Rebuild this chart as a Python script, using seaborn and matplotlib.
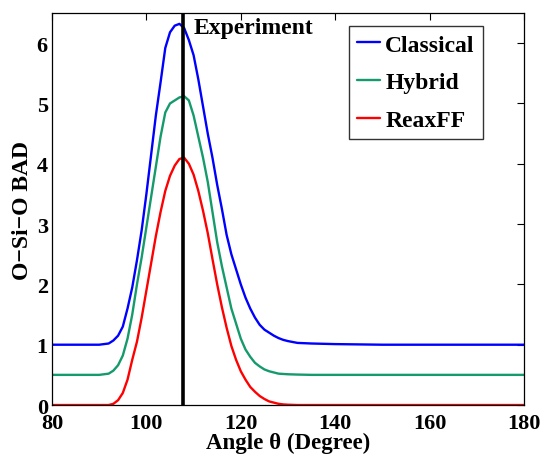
import matplotlib
matplotlib.use("Agg")
import matplotlib.pyplot as plt
import seaborn as sns
import pandas as pd

angle = [80, 85, 90, 91] + list(range(92, 131)) + [132, 135, 140, 150, 160, 170, 180]

classical = [1.0, 1.0, 1.0, 1.01,
             1.02, 1.07, 1.15, 1.3, 1.6, 1.95, 2.4, 2.9, 3.5, 4.15, 4.8, 5.35, 5.92,
             6.18, 6.29, 6.32, 6.25, 6.05, 5.8, 5.4, 4.95, 4.5, 4.1, 3.65, 3.25, 2.82,
             2.5, 2.25, 2.0, 1.78, 1.6, 1.45, 1.33, 1.25, 1.2, 1.15, 1.11, 1.08, 1.06,
             1.03, 1.02, 1.01, 1.0, 1.0, 1.0, 1.0]

hybrid = [0.5, 0.5, 0.5, 0.51,
          0.52, 0.57, 0.66, 0.82, 1.1, 1.5, 2.0, 2.45, 2.95, 3.45, 3.95, 4.45, 4.85,
          5.0, 5.05, 5.1, 5.12, 5.05, 4.8, 4.45, 4.1, 3.7, 3.2, 2.7, 2.3, 1.95,
          1.6, 1.35, 1.1, 0.92, 0.8, 0.7, 0.64, 0.59, 0.56, 0.54, 0.52, 0.515, 0.51,
          0.505, 0.5, 0.5, 0.5, 0.5, 0.5, 0.5]

reaxff = [0.0, 0.0, 0.0, 0.0,
          0.0, 0.02, 0.08, 0.2, 0.42, 0.75, 1.05, 1.45, 1.9, 2.35, 2.8, 3.2, 3.55,
          3.8, 3.97, 4.08, 4.1, 4.0, 3.82, 3.55, 3.22, 2.85, 2.42, 2.0, 1.62, 1.28,
          0.98, 0.75, 0.56, 0.42, 0.3, 0.22, 0.15, 0.1, 0.06, 0.04, 0.02, 0.01, 0.005,
          0.0, 0.0, 0.0, 0.0, 0.0, 0.0, 0.0]

series_names = ["Classical", "Hybrid", "ReaxFF"]
experiment_angle = 107.8

x_ticks = [80, 100, 120, 140, 160, 180]
y_ticks = [0, 1, 2, 3, 4, 5, 6]

df = pd.concat([
    pd.DataFrame({"angle": angle, "bad": vals, "model": name})
    for name, vals in zip(series_names, [classical, hybrid, reaxff])
])

sns.set_style("white")
plt.rcParams["font.family"] = ["Liberation Serif", "DejaVu Serif"]
plt.rcParams["font.weight"] = "bold"
plt.rcParams["text.color"] = "black"
plt.rcParams["axes.labelcolor"] = "black"
plt.rcParams["xtick.color"] = "black"
plt.rcParams["ytick.color"] = "black"

fig = plt.figure(figsize=(5.44, 4.56), dpi=100)
ax = fig.add_axes([0.0956, 0.1096, 0.8676, 0.8597])

palette = {"Classical": "#0000ff", "Hybrid": "#159a6b", "ReaxFF": "#ff0000"}
sns.lineplot(data=df, x="angle", y="bad", hue="model", palette=palette,
             linewidth=1.7, ax=ax, sort=False)

ax.axvline(experiment_angle, color="black", linewidth=2.6, zorder=5)
ax.text(experiment_angle + 2.1, 6.44, "Experiment", fontsize=17, fontweight="bold",
        ha="left", va="top", color="black")

ax.set_xlim(80, 180)
ax.set_ylim(0, 6.5)
ax.set_xticks(x_ticks)
ax.set_yticks(y_ticks)
ax.tick_params(axis="both", direction="in", top=True, right=True, length=5, width=0.8,
               labelsize=16, colors="black")
ax.tick_params(axis="x", pad=6)
ax.tick_params(axis="y", pad=3)
for lbl in ax.get_xticklabels() + ax.get_yticklabels():
    lbl.set_fontweight("bold")
for s in ax.spines.values():
    s.set_color("black")
    s.set_linewidth(0.9)

ax.set_xlabel("Angle θ (Degree)", fontsize=16.5, fontweight="bold", labelpad=-1)
ax.set_ylabel("O−Si−O BAD", fontsize=17, fontweight="bold", labelpad=3)

leg = ax.legend(loc="upper right", bbox_to_anchor=(0.913, 0.967), borderaxespad=0,
                fontsize=17, frameon=True, fancybox=False, handlelength=1.0,
                handletextpad=0.2, borderpad=0.35, labelspacing=0.68)
leg.get_frame().set_edgecolor("black")
leg.get_frame().set_linewidth(1.0)
for t in leg.get_texts():
    t.set_fontweight("bold")
    t.set_color("black")

fig.savefig("out.png", dpi=100)
